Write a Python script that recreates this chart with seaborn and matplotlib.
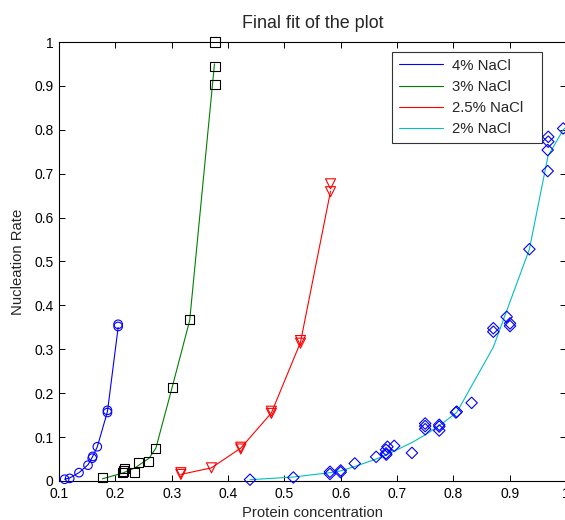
import matplotlib
matplotlib.use("Agg")
import matplotlib.pyplot as plt
import seaborn as sns
from matplotlib.ticker import FuncFormatter, MultipleLocator

sns.set_style("ticks", {"xtick.direction": "in", "ytick.direction": "in"})
plt.rcParams["font.family"] = ["Liberation Sans", "DejaVu Sans"]

# ---------------- data ----------------
labels = ["4% NaCl", "3% NaCl", "2.5% NaCl", "2% NaCl"]

# 4% NaCl (circles)
pts4_x = [0.110, 0.119, 0.1355, 0.1515, 0.159, 0.160, 0.168, 0.186, 0.186, 0.205, 0.205]
pts4_y = [0.004, 0.006, 0.019, 0.036, 0.052, 0.056, 0.078, 0.156, 0.161, 0.352, 0.357]
fit4_x = [0.110, 0.119, 0.1355, 0.1515, 0.159, 0.168, 0.186, 0.205]
fit4_y = [0.004, 0.007, 0.019, 0.037, 0.054, 0.078, 0.158, 0.350]

# 3% NaCl (squares)
pts3_x = [0.177, 0.2126, 0.2167, 0.214, 0.2345, 0.2416, 0.259, 0.272, 0.301, 0.332, 0.377, 0.377, 0.377]
pts3_y = [0.0075, 0.019, 0.029, 0.023, 0.020, 0.042, 0.044, 0.074, 0.213, 0.367, 1.000, 0.945, 0.904]
fit3_x = [0.177, 0.213, 0.235, 0.260, 0.272, 0.301, 0.332, 0.376]
fit3_y = [0.005, 0.018, 0.030, 0.052, 0.075, 0.214, 0.366, 0.950]

# 2.5% NaCl (down triangles)
pts25_x = [0.3163, 0.3163, 0.3707, 0.4227, 0.4227, 0.477, 0.477, 0.5287, 0.5287, 0.582, 0.582]
pts25_y = [0.015, 0.019, 0.030, 0.073, 0.077, 0.154, 0.159, 0.314, 0.320, 0.677, 0.659]
fit25_x = [0.3163, 0.3707, 0.4227, 0.477, 0.5287, 0.582]
fit25_y = [0.015, 0.030, 0.075, 0.155, 0.316, 0.660]

# 2% NaCl (diamonds)
pts2_x = [0.439, 0.516, 0.581, 0.581, 0.600, 0.600, 0.625, 0.663, 0.6805, 0.6805, 0.683, 0.681,
          0.695, 0.7265, 0.750, 0.750, 0.750, 0.775, 0.775, 0.775, 0.8046, 0.806, 0.8325,
          0.871, 0.871, 0.8947, 0.9006, 0.9006, 0.935, 0.9675, 0.9675, 0.9685, 0.9685, 0.995]
pts2_y = [0.003, 0.008, 0.021, 0.016, 0.020, 0.024, 0.040, 0.055, 0.063, 0.071, 0.078, 0.060,
          0.080, 0.064, 0.131, 0.125, 0.118, 0.128, 0.115, 0.124, 0.156, 0.158, 0.178,
          0.340, 0.348, 0.374, 0.359, 0.353, 0.528, 0.706, 0.754, 0.773, 0.784, 0.803]
fit2_x = [0.439, 0.516, 0.581, 0.600, 0.625, 0.663, 0.683, 0.695, 0.727, 0.750, 0.775,
          0.806, 0.833, 0.871, 0.935, 0.968, 0.995, 1.000]
fit2_y = [0.003, 0.009, 0.019, 0.023, 0.033, 0.050, 0.061, 0.068, 0.088, 0.105, 0.126,
          0.156, 0.218, 0.305, 0.528, 0.740, 0.800, 0.806]

line_colors = ["#0000ff", "#008000", "#ff0000", "#00bfbf"]
marker_colors = ["#0000ff", "#000000", "#ff0000", "#0000ff"]
markers = ["o", "s", "v", "D"]
sizes = [38, 44, 52, 34]

# ---------------- figure ----------------
W, H = 565, 520
fig = plt.figure(figsize=(W / 100, H / 100), dpi=100)
ax = fig.add_axes([59 / W, 1 - 481 / H, (566 - 59) / W, (481 - 42) / H])

fits = [(fit4_x, fit4_y), (fit3_x, fit3_y), (fit25_x, fit25_y), (fit2_x, fit2_y)]
pts = [(pts4_x, pts4_y), (pts3_x, pts3_y), (pts25_x, pts25_y), (pts2_x, pts2_y)]

for (fx, fy), lab, lc in zip(fits, labels, line_colors):
    sns.lineplot(x=fx, y=fy, ax=ax, color=lc, lw=0.8, label=lab,
                 sort=False, estimator=None)

for (px, py), mc, mk, sz in zip(pts, marker_colors, markers, sizes):
    sns.scatterplot(x=px, y=py, ax=ax, marker=mk, s=sz, fc="none", ec=mc,
                    linewidth=0.8, clip_on=False, zorder=3)

ax.set_xlim(0.1, 1.0)
ax.set_ylim(0, 1.0)
ax.xaxis.set_major_locator(MultipleLocator(0.1))
ax.yaxis.set_major_locator(MultipleLocator(0.1))
fmt = FuncFormatter(lambda v, p: f"{v:g}")
ax.xaxis.set_major_formatter(fmt)
ax.yaxis.set_major_formatter(fmt)
ax.tick_params(which="both", direction="in", top=True, right=True, length=4,
               width=0.7, labelsize=10, colors="black", pad=4)
for sp in ax.spines.values():
    sp.set_visible(True)
    sp.set_color("black")
    sp.set_linewidth(0.8)

ax.set_title("Final fit of the plot", fontsize=12.9, pad=10)
ax.set_xlabel("Protein concentration", fontsize=10.7)
ax.set_ylabel("Nucleation Rate", fontsize=10.7)
ax.xaxis.set_label_coords(0.5, (481 - 506) / 439)
ax.yaxis.set_label_coords((25 - 59) / 507, 0.5)

leg = ax.legend(loc="upper left",
                bbox_to_anchor=(392 / W, 1 - 142 / H, 150 / W, 90 / H),
                bbox_transform=fig.transFigure, mode="expand", borderaxespad=0,
                fontsize=10.7, frameon=True, fancybox=False, handlelength=3.0,
                handletextpad=0.6, labelspacing=0.48, borderpad=0.45)
leg.get_frame().set_edgecolor("black")
leg.get_frame().set_linewidth(0.8)

fig.savefig("out.png", dpi=100)
